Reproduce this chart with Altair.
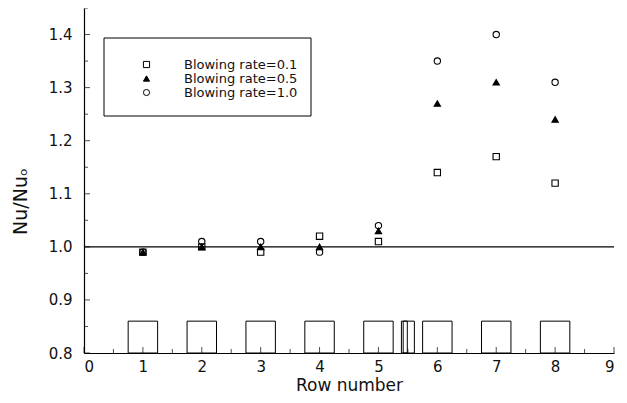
import altair as alt
import pandas as pd

# ---- data ----
rows = [1, 2, 3, 4, 5, 6, 7, 8]
rate_01 = [0.99, 1.00, 0.99, 1.02, 1.01, 1.14, 1.17, 1.12]
rate_05 = [0.99, 1.00, 1.00, 1.00, 1.03, 1.27, 1.31, 1.24]
rate_10 = [0.99, 1.01, 1.01, 0.99, 1.04, 1.35, 1.40, 1.31]
series_labels = ["Blowing rate=0.1", "Blowing rate=0.5", "Blowing rate=1.0"]

tube_start = [0.75, 1.75, 2.75, 3.75, 4.75, 5.39, 5.42, 5.75, 6.75, 7.75]
tube_end = [1.25, 2.25, 3.25, 4.25, 5.25, 5.61, 5.49, 6.25, 7.25, 8.25]
tube_bottom = 0.80
tube_top = 0.86

x_major = [0, 1, 2, 3, 4, 5, 6, 7, 8, 9]
x_minor = [0.5, 1.5, 2.5, 3.5, 4.5, 5.5, 6.5, 7.5, 8.5]
y_major = [0.8, 0.9, 1.0, 1.1, 1.2, 1.3, 1.4]
y_minor = [0.85, 0.95, 1.05, 1.15, 1.25, 1.35, 1.45]
ref_value = 1.0

W, H = 530, 345
FONT = "DejaVu Sans"

pts = pd.DataFrame({
    "row": rows * 3,
    "value": rate_01 + rate_05 + rate_10,
    "series": [series_labels[0]] * 8 + [series_labels[1]] * 8 + [series_labels[2]] * 8,
})
tubes = pd.DataFrame({"row": tube_start, "x1": tube_end,
                      "value": [tube_bottom] * len(tube_start), "y1": [tube_top] * len(tube_start)})

xs = alt.Scale(domain=[0, 9], nice=False, zero=False)
ys = alt.Scale(domain=[0.8, 1.45], nice=False, zero=False)

X_AXIS = alt.Axis(values=x_major, title="Row number", format="d", grid=False, ticks=False,
                  labelFontSize=15, labelPadding=6, titleFontSize=17,
                  titleFontWeight="normal", titleY=37, titleBaseline="alphabetic")
Y_AXIS = alt.Axis(values=y_major, title="Nu/Nuₒ", format=".1f", grid=False, ticks=False,
                  labelFontSize=15, labelPadding=12, titleFontSize=19,
                  titleFontWeight="normal",
                  titleX=-64, titleY=193, titleAngle=270,
                  titleAlign="center", titleBaseline="middle")

leg = alt.Legend(title=None, orient="none", legendX=56, legendY=50,
                 labelFontSize=13, labelFont=FONT, labelColor="#111",
                 labelOffset=31, padding=0, rowPadding=0,
                 symbolStrokeWidth=1, symbolSize=38)

points = alt.Chart(pts).mark_point(size=40, strokeWidth=1.1, opacity=1).encode(
    x=alt.X("row:Q", scale=xs, axis=X_AXIS),
    y=alt.Y("value:Q", scale=ys, axis=Y_AXIS),
    shape=alt.Shape("series:N", scale=alt.Scale(domain=series_labels,
                                                range=["square", "triangle-up", "circle"]), legend=leg),
    fill=alt.Fill("series:N", scale=alt.Scale(domain=series_labels,
                                              range=["transparent", "black", "transparent"]), legend=leg),
    stroke=alt.Stroke("series:N", scale=alt.Scale(domain=series_labels,
                                                  range=["black", "black", "black"]), legend=leg),
)

ref_line = alt.Chart(pd.DataFrame({"value": [ref_value]})).mark_rule(color="black", strokeWidth=1.2).encode(
    y=alt.Y("value:Q", scale=ys, axis=Y_AXIS))

tube_rects = alt.Chart(tubes).mark_rect(fill="transparent", stroke="black", strokeWidth=1).encode(
    x=alt.X("row:Q", scale=xs, axis=X_AXIS), x2="x1",
    y=alt.Y("value:Q", scale=ys, axis=Y_AXIS), y2="y1")

def xticks(vals, size):
    return alt.Chart(pd.DataFrame({"row": vals})).mark_tick(
        orient="vertical", size=size, thickness=1, color="black").encode(
        x=alt.X("row:Q", scale=xs, axis=X_AXIS), y=alt.value(H - size / 2))

def yticks(vals, size):
    return alt.Chart(pd.DataFrame({"value": vals})).mark_tick(
        orient="horizontal", size=size, thickness=1, color="black").encode(
        y=alt.Y("value:Q", scale=ys, axis=Y_AXIS), x=alt.value(size / 2))

legend_box = alt.Chart(pd.DataFrame({"a": [0]})).mark_rect(
    fill="transparent", stroke="black", strokeWidth=1).encode(
    x=alt.value(20), x2=alt.value(227), y=alt.value(30), y2=alt.value(108))

chart = alt.layer(
    points, tube_rects, ref_line,
    xticks(x_major, 6), xticks(x_minor, 4), yticks(y_major, 6), yticks(y_minor, 4),
    legend_box,
).properties(
    width=W, height=H,
    background="white",
    autosize=alt.AutoSizeParams(type="none"),
    padding={"left": 76, "top": 0, "right": 5, "bottom": 42},
).configure_view(strokeWidth=0, stroke="transparent").configure_axis(
    grid=False, ticks=False, domainColor="black", domainWidth=1.2,
    labelFont=FONT, titleFont=FONT, labelColor="#111", titleColor="#111",
    titleFontWeight="normal",
)

chart.save("out.html", embed_options={"renderer": "svg", "actions": False})
